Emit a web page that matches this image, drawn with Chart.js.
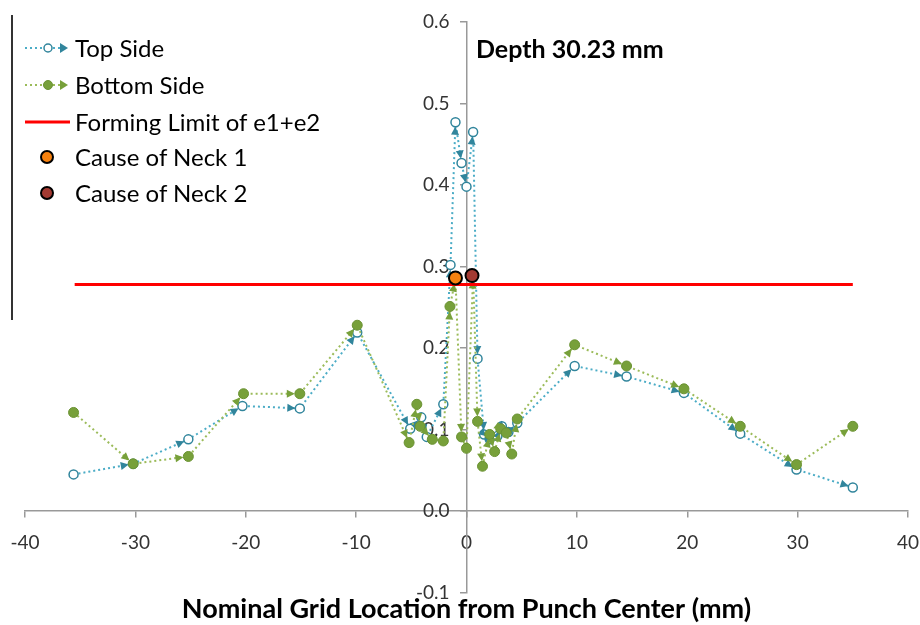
<!DOCTYPE html>
<html><head><meta charset="utf-8">
<script src="https://cdn.jsdelivr.net/npm/chart.js@4"></script>
<style>
html,body{margin:0;padding:0;background:#fff;}
#wrap{position:relative;width:920px;height:625px;overflow:hidden;}
#c{position:absolute;left:0;top:0;}
.lt{position:absolute;font-family:Lato,"Noto Sans",sans-serif;font-size:24px;line-height:28px;color:#000;white-space:nowrap;}
.ls{position:absolute;}
</style></head><body>
<div id="wrap">
<canvas id="c" width="920" height="625"></canvas>
<div style="position:absolute;left:11px;top:15px;width:1.5px;height:305px;background:#333;"></div>
<svg class="ls" style="left:22px;top:40px" width="50" height="16"><line x1="3" y1="8" x2="20" y2="8" stroke="#4BACC6" stroke-width="2" stroke-dasharray="2 3"/><circle cx="26" cy="8" r="4" fill="#fff" stroke="#31859C" stroke-width="1.5"/><line x1="31" y1="8" x2="38" y2="8" stroke="#4BACC6" stroke-width="2" stroke-dasharray="2 3"/><polygon points="38,3 46,8 38,13" fill="#31859C"/></svg>
<div class="lt" style="left:75px;top:34px">Top Side</div>
<svg class="ls" style="left:22px;top:77px" width="50" height="16"><line x1="3" y1="8" x2="20" y2="8" stroke="#9BBB59" stroke-width="2" stroke-dasharray="2 3"/><circle cx="26" cy="8" r="4.5" fill="#77A03A" stroke="#6A9232" stroke-width="1"/><line x1="31" y1="8" x2="38" y2="8" stroke="#9BBB59" stroke-width="2" stroke-dasharray="2 3"/><polygon points="38,3 46,8 38,13" fill="#77A03A"/></svg>
<div class="lt" style="left:75px;top:71px">Bottom Side</div>
<svg class="ls" style="left:22px;top:114px" width="50" height="16"><line x1="3" y1="8" x2="48" y2="8" stroke="#FF0000" stroke-width="3"/></svg>
<div class="lt" style="left:75px;top:108px">Forming Limit of e1+e2</div>
<svg class="ls" style="left:37px;top:147px" width="20" height="20"><circle cx="10" cy="10" r="6" fill="#F7820F" stroke="#000" stroke-width="2"/></svg>
<div class="lt" style="left:75px;top:143px">Cause of Neck 1</div>
<svg class="ls" style="left:37px;top:183px" width="20" height="20"><circle cx="10" cy="10" r="6" fill="#A33A32" stroke="#000" stroke-width="2"/></svg>
<div class="lt" style="left:75px;top:179px">Cause of Neck 2</div>
<div class="lt" style="left:476px;top:34px;font-weight:bold;font-size:25px;">Depth 30.23 mm</div>
</div>
<script>
const topX = [-35.6, -30.2, -25.2, -20.3, -15.1, -9.9, -5.1, -4.1, -3.6, -2.1, -1.45, -1.0, -0.45, 0.0, 0.6, 1.0, 1.6, 2.1, 2.8, 3.2, 3.8, 4.6, 9.8, 14.5, 19.7, 24.8, 29.9, 35.0];
const topY = [0.045, 0.058, 0.088, 0.129, 0.126, 0.219, 0.101, 0.115, 0.091, 0.131, 0.302, 0.477, 0.427, 0.398, 0.465, 0.187, 0.094, 0.088, 0.092, 0.104, 0.097, 0.108, 0.178, 0.165, 0.145, 0.095, 0.051, 0.029];
const bottomX = [-35.6, -30.2, -25.2, -20.2, -15.1, -9.9, -5.2, -4.5, -4.2, -3.1, -2.1, -1.5, -1.0, -0.45, 0.0, 0.6, 1.0, 1.45, 2.1, 2.55, 3.1, 3.6, 4.1, 4.6, 9.8, 14.5, 19.7, 24.8, 29.9, 35.0];
const bottomY = [0.121, 0.058, 0.067, 0.144, 0.144, 0.228, 0.084, 0.131, 0.104, 0.088, 0.086, 0.251, 0.285, 0.091, 0.077, 0.289, 0.110, 0.055, 0.094, 0.073, 0.101, 0.096, 0.070, 0.113, 0.204, 0.178, 0.150, 0.104, 0.057, 0.104];
const limitX = [-35.5, 35.0];
const limitY = [0.278, 0.278];
const neck1 = [-1.0, 0.286];
const neck2 = [0.5, 0.289];
const xTicks = [-40, -30, -20, -10, 0, 10, 20, 30, 40];
const yTicks = [-0.1, 0.0, 0.1, 0.2, 0.3, 0.4, 0.5, 0.6];

const pts = (xs, ys) => xs.map((x, i) => ({x, y: ys[i]}));

const arrowPlugin = {
  id: 'arrows',
  afterDatasetDraw(chart, args) {
    const ds = chart.data.datasets[args.index];
    if (!ds.arrowColor) return;
    const el = args.meta.data;
    const ctx = chart.ctx;
    ctx.save();
    ctx.fillStyle = ds.arrowColor;
    for (let i = 1; i < el.length; i++) {
      const a = el[i - 1], b = el[i];
      const ang = Math.atan2(b.y - a.y, b.x - a.x);
      const c = Math.cos(ang), s = Math.sin(ang);
      const off = ds.arrowOffset, L = 8, W = 4;
      const tx = b.x - c * off, ty = b.y - s * off;
      ctx.beginPath();
      ctx.moveTo(tx, ty);
      ctx.lineTo(tx - c * L + s * W, ty - s * L - c * W);
      ctx.lineTo(tx - c * L - s * W, ty - s * L + c * W);
      ctx.closePath();
      ctx.fill();
    }
    ctx.restore();
  }
};

// shift the y tick labels away from the axis line (positioned axes ignore ticks.padding)
const yLabelGap = {
  id: 'yLabelGap',
  beforeDraw(chart) {
    const s = chart.scales.y;
    s.getLabelItems(chart.chartArea).forEach(it => { it.options.translation[0] -= 17; });
  }
};

const axisCommon = {
  grid: {display: true, drawOnChartArea: false, drawTicks: true, tickLength: 6, color: '#999', lineWidth: 1.5},
  border: {display: true, color: '#999', width: 1.5}
};

new Chart(document.getElementById('c'), {
  type: 'scatter',
  data: {
    datasets: [
      {label: 'Cause of Neck 1', data: [{x: neck1[0], y: neck1[1]}], pointRadius: 6.5, pointBackgroundColor: '#F7820F', pointBorderColor: '#000', pointBorderWidth: 2, order: 0},
      {label: 'Cause of Neck 2', data: [{x: neck2[0], y: neck2[1]}], pointRadius: 6.5, pointBackgroundColor: '#A33A32', pointBorderColor: '#000', pointBorderWidth: 2, order: 1},
      {label: 'Forming Limit of e1+e2', data: pts(limitX, limitY), showLine: true, borderColor: '#FF0000', borderWidth: 3, pointRadius: 0, order: 2},
      {label: 'Bottom Side', data: pts(bottomX, bottomY), showLine: true, borderColor: '#9BBB59', borderWidth: 2, borderDash: [2, 3], pointRadius: 5, pointBackgroundColor: '#77A03A', pointBorderColor: '#6A9232', pointBorderWidth: 1, arrowColor: '#77A03A', arrowOffset: 5, order: 3},
      {label: 'Top Side', data: pts(topX, topY), showLine: true, borderColor: '#4BACC6', borderWidth: 2, borderDash: [2, 3], pointRadius: 4.5, pointBackgroundColor: '#fff', pointBorderColor: '#31859C', pointBorderWidth: 1.5, arrowColor: '#31859C', arrowOffset: 4.5, order: 4}
    ]
  },
  options: {
    responsive: false,
    animation: false,
    layout: {padding: {left: 25, right: 12, top: 22, bottom: 0}},
    plugins: {
      legend: {display: false},
      tooltip: {enabled: false},
      title: {display: true, position: 'bottom', text: 'Nominal Grid Location from Punch Center (mm)', color: '#000', font: {family: 'Lato', size: 27, weight: 'bold'}, padding: {top: 0, bottom: 0}}
    },
    scales: {
      x: Object.assign({}, axisCommon, {
        type: 'linear', min: -40, max: 40, position: {y: 0},
        afterFit: s => { s.height = 0; s.paddingLeft = 0; s.paddingRight = 0; },
        afterBuildTicks: s => { s.ticks = xTicks.map(v => ({value: v})); },
        ticks: {font: {family: 'Lato', size: 19}, color: '#333', padding: 14, maxRotation: 0, callback: v => String(v)}
      }),
      y: Object.assign({}, axisCommon, {
        type: 'linear', min: -0.1, max: 0.6, position: {x: 0},
        afterFit: s => { s.width = 0; s.paddingTop = 0; s.paddingBottom = 0; },
        afterBuildTicks: s => { s.ticks = yTicks.map(v => ({value: v})); },
        ticks: {font: {family: 'Lato', size: 19}, color: '#333', padding: 12, callback: v => Number(v).toFixed(1)}
      })
    }
  },
  plugins: [arrowPlugin, yLabelGap]
});
</script>
</body></html>
